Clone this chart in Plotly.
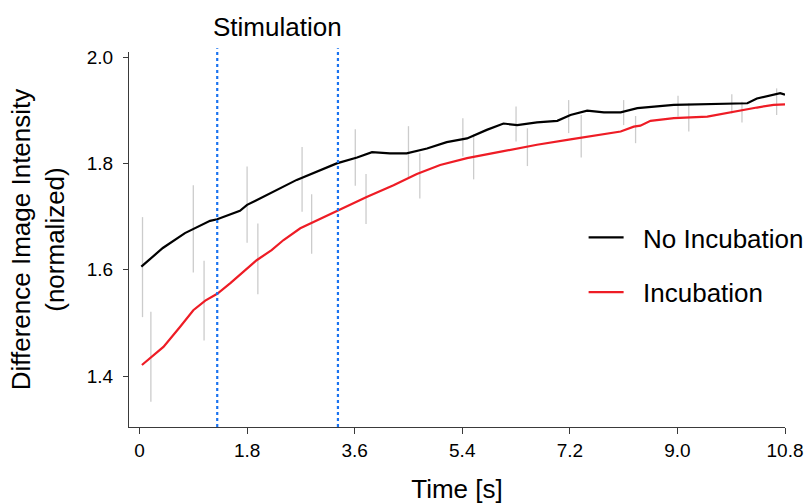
import plotly.graph_objects as go

# ---- data ----
black_t = [0.03, 0.39, 0.76, 1.18, 1.30, 1.68, 1.80, 2.19, 2.63, 3.30, 3.64, 3.89, 4.19, 4.47,
           4.81, 5.14, 5.48, 5.81, 6.09, 6.32, 6.65, 6.99, 7.21, 7.49, 7.77, 8.05, 8.33, 8.94,
           9.50, 9.94, 10.17, 10.33, 10.61, 10.72, 10.80]
black_y = [1.606, 1.641, 1.669, 1.692, 1.695, 1.711, 1.722, 1.744, 1.769, 1.800, 1.811, 1.821,
           1.819, 1.819, 1.828, 1.840, 1.847, 1.863, 1.875, 1.872, 1.877, 1.880, 1.891, 1.899,
           1.896, 1.896, 1.904, 1.910, 1.911, 1.912, 1.913, 1.922, 1.929, 1.932, 1.929]

red_t = [0.04, 0.40, 0.68, 0.90, 1.10, 1.30, 1.52, 1.74, 1.96, 2.21, 2.41, 2.69, 3.30, 3.80,
         4.25, 4.64, 5.03, 5.48, 6.09, 6.65, 7.21, 7.77, 8.05, 8.27, 8.38, 8.55, 8.94, 9.50,
         9.78, 10.06, 10.33, 10.61, 10.80]
red_y = [1.421, 1.455, 1.493, 1.524, 1.542, 1.555, 1.575, 1.596, 1.618, 1.637, 1.656, 1.678,
         1.710, 1.737, 1.759, 1.780, 1.797, 1.810, 1.823, 1.835, 1.845, 1.855, 1.860, 1.869,
         1.871, 1.880, 1.885, 1.888, 1.894, 1.900, 1.905, 1.910, 1.911]

black_err_t = [0.05, 0.90, 1.80, 2.72, 3.61, 4.50, 5.41, 6.30, 7.18, 8.10, 9.01, 9.91, 10.66]
black_err_lo = [1.511, 1.595, 1.651, 1.709, 1.758, 1.772, 1.813, 1.841, 1.857, 1.872, 1.888, 1.894, 1.891]
black_err_hi = [1.699, 1.759, 1.794, 1.831, 1.864, 1.870, 1.885, 1.907, 1.919, 1.919, 1.927, 1.930, 1.941]

red_err_t = [0.19, 1.08, 1.98, 2.88, 3.79, 4.69, 5.59, 6.49, 7.39, 8.30, 9.19, 10.08]
red_err_lo = [1.352, 1.467, 1.554, 1.630, 1.686, 1.734, 1.770, 1.795, 1.811, 1.838, 1.860, 1.877]
red_err_hi = [1.521, 1.617, 1.687, 1.742, 1.780, 1.819, 1.855, 1.866, 1.891, 1.889, 1.913, 1.916]

stim_times = [1.30, 3.32]
x_ticks = [0, 1.8, 3.6, 5.4, 7.2, 9.0, 10.8]
x_ticktext = ["0", "1.8", "3.6", "5.4", "7.2", "9.0", "10.8"]
y_ticks = [1.4, 1.6, 1.8, 2.0]
y_ticktext = ["1.4", "1.6", "1.8", "2.0"]

FONT = "Arial, Liberation Sans, sans-serif"
AXIS_COL = "#3a3a3a"
NB = "\u00a0\u00a0"


def segments(ts, los, his):
    xs, ys = [], []
    for t, lo, hi in zip(ts, los, his):
        xs += [t, t, None]
        ys += [lo, hi, None]
    return xs, ys


fig = go.Figure()

for ts, los, his in [(black_err_t, black_err_lo, black_err_hi), (red_err_t, red_err_lo, red_err_hi)]:
    sx, sy = segments(ts, los, his)
    fig.add_trace(go.Scatter(x=sx, y=sy, mode="lines", line=dict(color="#cccccc", width=1.3),
                             showlegend=False, hoverinfo="skip"))

fig.add_trace(go.Scatter(x=black_t, y=black_y, mode="lines", name=NB + "No Incubation",
                         legendgroup="a", line=dict(color="#000000", width=2.2)))
fig.add_trace(go.Scatter(x=red_t, y=red_y, mode="lines", name=NB + "Incubation",
                         legendgroup="b", line=dict(color="#ee1c25", width=2.2)))

for st in stim_times:
    fig.add_shape(type="line", xref="x", yref="paper", x0=st, x1=st, y0=0, y1=1.01,
                  line=dict(color="#1a73f0", width=2.2, dash="dot"))

fig.add_annotation(x=sum(stim_times) / 2, xref="x", y=1.067, yref="paper",
                   text="Stimulation", showarrow=False, xanchor="center", yanchor="middle",
                   font=dict(size=26, color="#000"))

fig.update_layout(
    width=808, height=504,
    margin=dict(l=129, r=23, t=52, b=77, autoexpand=False),
    paper_bgcolor="white", plot_bgcolor="white",
    font=dict(family=FONT, color="#000"),
    showlegend=True,
    legend=dict(x=0.693, y=0.568, xanchor="left", yanchor="top", bgcolor="rgba(0,0,0,0)",
                font=dict(size=26), itemwidth=35, tracegroupgap=18, traceorder="grouped"),
)
fig.update_xaxes(range=[-0.176, 10.8], tickvals=x_ticks, ticktext=x_ticktext, automargin=False,
                 showline=True, linecolor=AXIS_COL, linewidth=1.3, ticks="outside", ticklen=6,
                 tickcolor=AXIS_COL, tickwidth=1.3, showgrid=False, zeroline=False,
                 tickfont=dict(size=19), title=dict(text="Time [s]", font=dict(size=26), standoff=20))
fig.update_yaxes(range=[1.3045, 2.0094], tickvals=y_ticks, ticktext=y_ticktext, automargin=False,
                 showline=True, linecolor=AXIS_COL, linewidth=1.3, ticks="outside", ticklen=5,
                 tickcolor=AXIS_COL, tickwidth=1.3, showgrid=False, zeroline=False,
                 tickfont=dict(size=19), ticklabelstandoff=6,
                 title=dict(text="Difference Image Intensity<br>(normalized)", font=dict(size=26), standoff=14))

fig.write_html("out.html", config={"displayModeBar": False},
               post_script="document.body.style.margin='0';")
